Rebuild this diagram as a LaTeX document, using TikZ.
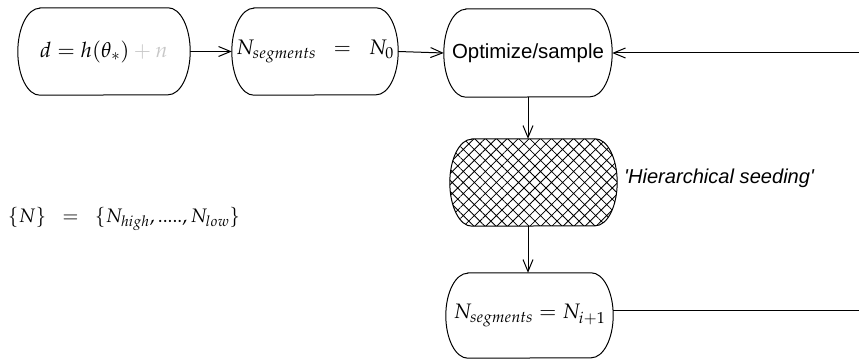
\documentclass[tikz,border=0pt]{standalone}
\usepackage{mathpazo}
\usepackage[no-math]{fontspec}
\newfontfamily\sansf{Liberation Sans}
\usetikzlibrary{arrows.meta,patterns.meta}
\newcommand\pillnode[6][]{%
  \node[minimum width=#4, minimum height=#5, inner sep=0pt] (#2) at (#3) {#6};
  \draw[pillline,#1] ([xshift=22pt]#2.north west) -- ([xshift=-22pt]#2.north east)
    arc[start angle=90,end angle=-90,x radius=22pt,y radius=#5/2]
    -- ([xshift=22pt]#2.south west)
    arc[start angle=270,end angle=90,x radius=22pt,y radius=#5/2] -- cycle;
}
\tikzset{
  pillline/.style={line width=1pt},
  arr/.style={line width=1pt,-{Straight Barb[length=12pt,width=10pt,line width=1pt]}},
  plain/.style={line width=1pt},
  hatch/.style={pattern={Hatch[angle=45,distance=7.8pt,line width=0.8pt]}},
}
\begin{document}
\begin{tikzpicture}[x=1pt,y=1pt]
\useasboundingbox (0,0) rectangle (859,359);
\pillnode{n1}{104,307.5}{172pt}{87pt}{\fontsize{21.2}{25}\selectfont$d = h(\theta_*) \mathbin{\textcolor{black!22}{+}} \textcolor{black!22}{n}$\hspace{18pt}}
\pillnode{n2}{315,307.5}{166pt}{87pt}{\fontsize{21}{25}\selectfont$N_{segments}\;\;=\;\;N_0$}
\pillnode{n3}{528,306}{168pt}{88pt}{\fontsize{20.4}{24}\selectfont\sansf Optimize/sample}
\pillnode[hatch]{n4}{533.5,176.5}{167pt}{87pt}{}
\pillnode{n5}{529.5,43.5}{167pt}{85pt}{\raisebox{-5pt}{\fontsize{20.9}{25}\selectfont$N_{segments} = N_{i+1}$}}
\node[anchor=west,inner sep=0pt,font=\fontsize{20.1}{24}\selectfont\sansf\itshape] (lab) at (624,181) {'Hierarchical seeding'};
\node[inner sep=0pt,font=\fontsize{19.5}{23}\selectfont] (set) at (124,140) {$\{N\}\;\;=\;\;\{N_{high},.....,N_{low}\}$};
\coordinate (r1) at (859,306);
\coordinate (r2) at (859,49);
\draw[arr] (n1.east) -- (n2.west);
\draw[arr] (n2.east) -- (n3.west);
\draw[arr] (r1) -- (n3.east);
\draw[arr] (n3.south) -- (n3.south |- n4.north);
\draw[arr] (n3.south |- n4.south) -- (n3.south |- n5.north);
\draw[plain] ([yshift=5.5pt]n5.east) -- (r2);
\end{tikzpicture}
\end{document}
